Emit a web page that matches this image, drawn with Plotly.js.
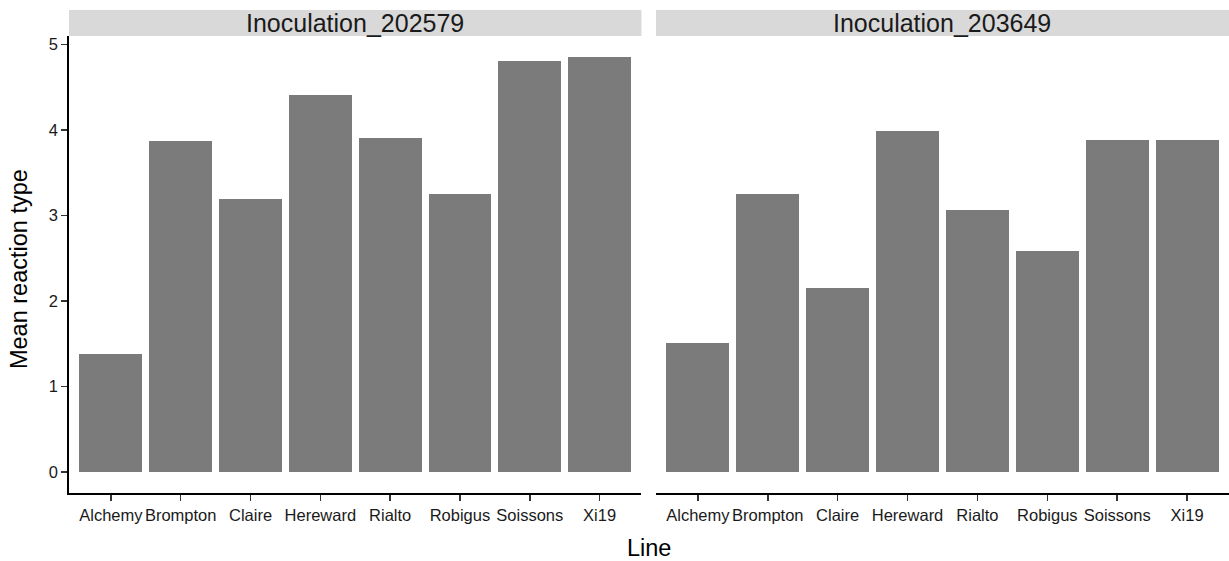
<!DOCTYPE html>
<html>
<head>
<meta charset="utf-8">
<script src="https://cdn.plot.ly/plotly-3.0.1.min.js"></script>
<style>html,body{margin:0;padding:0;background:#fff;}#chart{width:1229px;height:561px;}</style>
</head>
<body>
<div id="chart"></div>
<script>
const lines = ["Alchemy","Brompton","Claire","Hereward","Rialto","Robigus","Soissons","Xi19"];
const panels = ["Inoculation_202579","Inoculation_203649"];
const values202579 = [1.38, 3.87, 3.19, 4.41, 3.905, 3.25, 4.80, 4.855];
const values203649 = [1.51, 3.25, 2.15, 3.99, 3.07, 2.58, 3.88, 3.88];
const yTicks = [0,1,2,3,4,5];

const barColor = '#7b7b7b';
const font = 'Liberation Sans, Arial, Helvetica, sans-serif';

const traces = [
  {type:'bar', x: lines, y: values202579, xaxis:'x', yaxis:'y', width:0.9,
   marker:{color:barColor, line:{width:0}}, hoverinfo:'x+y', showlegend:false},
  {type:'bar', x: lines, y: values203649, xaxis:'x2', yaxis:'y2', width:0.9,
   marker:{color:barColor, line:{width:0}}, hoverinfo:'x+y', showlegend:false}
];

const allVals = values202579.concat(values203649);
const ymax = Math.max(...allVals);
const ypad = ymax * 0.05;
const yrange = [-ypad, ymax + ypad];
const xrange = [-0.6, lines.length - 1 + 0.6];

const plotH = 561 - 36 - 68;
const stripH = 26 / plotH;

const xaxisBase = {
  type:'category', range:xrange, showgrid:false, zeroline:false,
  showline:true, linecolor:'#000', linewidth:1.8,
  ticks:'outside', ticklen:6, tickwidth:1.5, tickcolor:'#333',
  tickfont:{family:font, size:16.5, color:'#1a1a1a'}, fixedrange:true
};

const layout = {
  width:1229, height:561,
  margin:{l:69, r:0, t:36, b:68, pad:0},
  paper_bgcolor:'#fff', plot_bgcolor:'#fff',
  bargap:0,
  xaxis: Object.assign({}, xaxisBase, {domain:[0, 0.4935], anchor:'y'}),
  xaxis2: Object.assign({}, xaxisBase, {domain:[0.506, 1], anchor:'y2'}),
  yaxis: {domain:[0,1], range:yrange, anchor:'x', tickvals:yTicks, ticktext:yTicks.map(String),
    showgrid:false, zeroline:false, showline:true, linecolor:'#000', linewidth:1.8,
    ticks:'outside', ticklen:6, tickwidth:1.5, tickcolor:'#333',
    tickfont:{family:font, size:16.5, color:'#1a1a1a'}, fixedrange:true},
  yaxis2: {domain:[0,1], range:yrange, anchor:'x2', matches:'y', showticklabels:false,
    showgrid:false, zeroline:false, showline:false, ticks:'', fixedrange:true},
  shapes: [
    {type:'rect', xref:'paper', yref:'paper', x0:0, x1:0.4935, y0:1, y1:1+stripH,
     fillcolor:'#d9d9d9', line:{width:0}, layer:'below'},
    {type:'rect', xref:'paper', yref:'paper', x0:0.506, x1:1, y0:1, y1:1+stripH,
     fillcolor:'#d9d9d9', line:{width:0}, layer:'below'}
  ],
  annotations: [
    {text:panels[0], xref:'paper', yref:'paper', x:0.4935/2, y:1+stripH/2, showarrow:false,
     xanchor:'center', yanchor:'middle', font:{family:font, size:25, color:'#1a1a1a'}},
    {text:panels[1], xref:'paper', yref:'paper', x:(0.506+1)/2, y:1+stripH/2, showarrow:false,
     xanchor:'center', yanchor:'middle', font:{family:font, size:25, color:'#1a1a1a'}},
    {text:'Line', xref:'paper', yref:'paper', x:0.5, y:-(548-493)/plotH, showarrow:false,
     xanchor:'center', yanchor:'middle', font:{family:font, size:23.5, color:'#000'}},
    {text:'Mean reaction type', xref:'paper', yref:'paper', x:-(69-19)/1160, y:0.49, showarrow:false,
     textangle:-90, xanchor:'center', yanchor:'middle', font:{family:font, size:23.5, color:'#000'}}
  ]
};

Plotly.newPlot('chart', traces, layout, {displayModeBar:false, staticPlot:true});
</script>
</body>
</html>
